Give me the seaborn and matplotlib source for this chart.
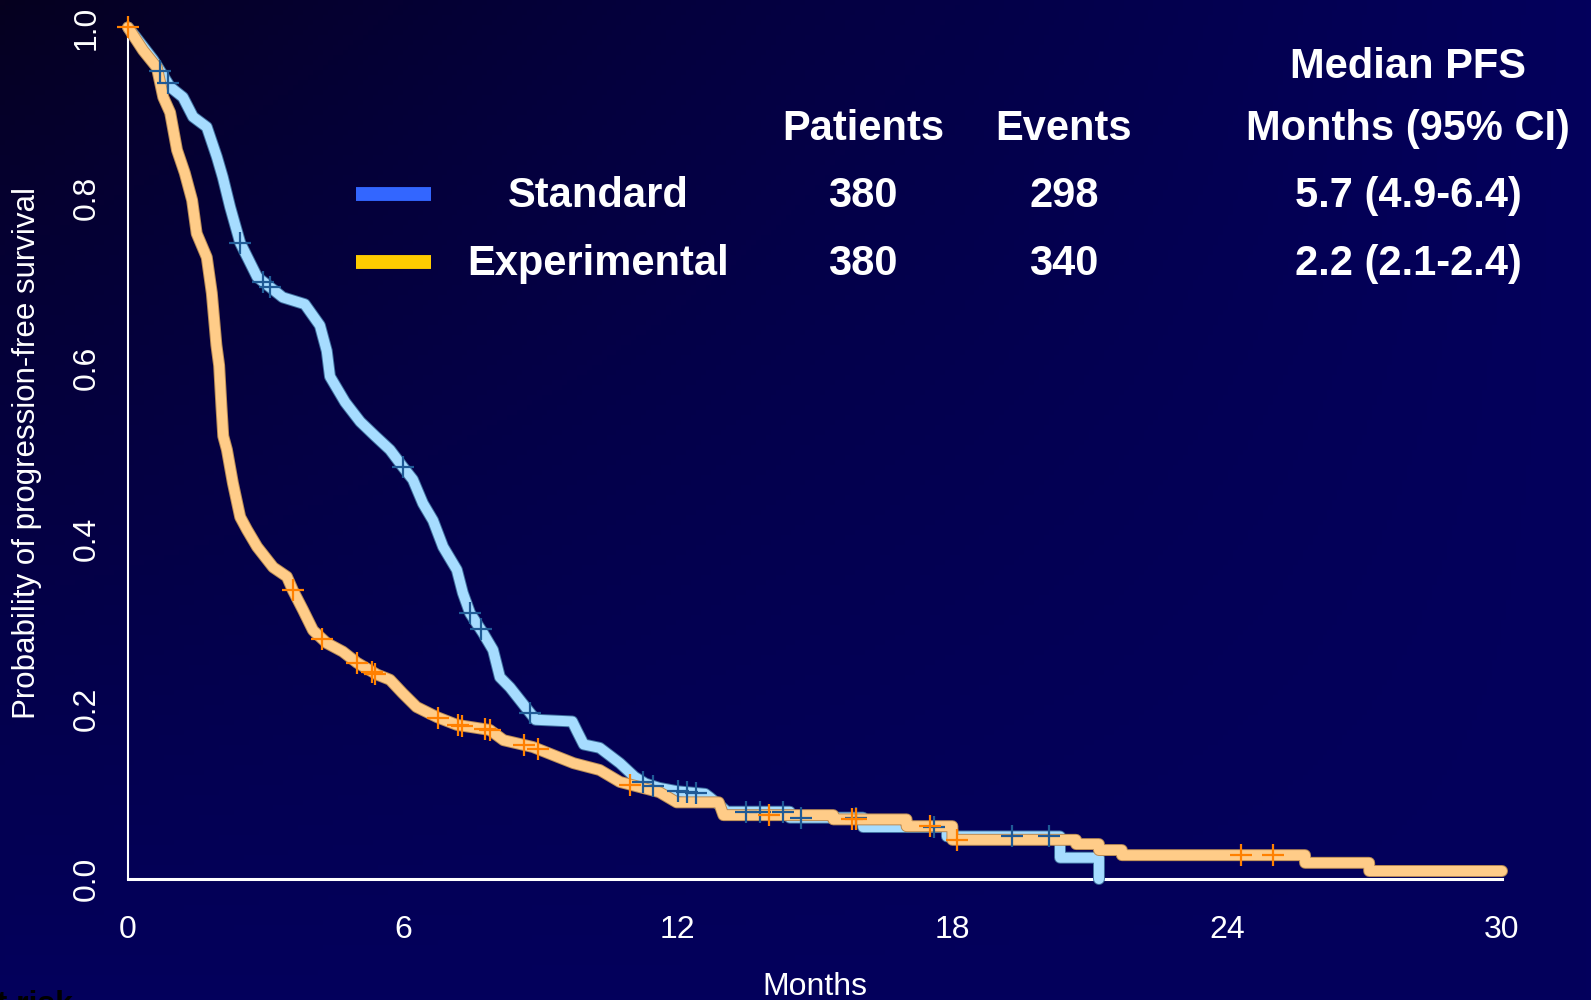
import numpy as np
import pandas as pd
import matplotlib
matplotlib.use("Agg")
import matplotlib.pyplot as plt
import matplotlib.patheffects as pe
import seaborn as sns

# ---------------- data (curve vertices) ----------------
std_time = [0, 0.15, 0.55, 0.92, 1.2, 1.42, 1.72, 1.94, 2.07, 2.23, 2.45, 2.82, 3.38,
            3.86, 4.19, 4.34, 4.41, 4.74, 5.07, 5.4, 5.72, 6.0, 6.22, 6.44, 6.66,
            6.88, 7.18, 7.31, 7.47, 7.75, 7.97, 8.12, 8.34, 8.56, 8.78, 8.9, 9.7,
            9.8, 9.95, 10.3, 10.74, 11.06, 11.3, 11.6, 12.0, 12.6, 12.7, 12.95,
            13.08, 14.45, 14.45, 16.05, 16.05, 17.88, 17.88, 20.35, 20.35, 21.2, 21.2]
std_surv = [1.0, 0.99, 0.962, 0.93, 0.918, 0.895, 0.883, 0.848, 0.824, 0.789, 0.747,
            0.707, 0.683, 0.675, 0.65, 0.62, 0.59, 0.56, 0.537, 0.52, 0.504, 0.484,
            0.469, 0.441, 0.421, 0.39, 0.363, 0.336, 0.312, 0.289, 0.269, 0.237,
            0.225, 0.21, 0.195, 0.187, 0.185, 0.174, 0.158, 0.154, 0.136, 0.12,
            0.112, 0.107, 0.103, 0.1, 0.096, 0.085, 0.079, 0.079, 0.072, 0.072,
            0.061, 0.061, 0.05, 0.05, 0.025, 0.025, 0.0]

exp_time = [0, 0.33, 0.63, 0.77, 0.92, 1.07, 1.24, 1.4, 1.5, 1.72, 1.83, 1.93, 1.99,
            2.04, 2.08, 2.16, 2.29, 2.45, 2.6, 2.82, 3.17, 3.47, 3.6, 3.82, 4.04,
            4.34, 4.69, 5.0, 5.44, 5.72, 6.0, 6.3, 6.75, 7.18, 7.9, 8.2, 8.84, 9.4,
            9.73, 10.3, 10.74, 11.6, 11.98, 12.9, 13.0, 15.4, 15.4, 17.0, 17.0,
            18.0, 18.0, 20.7, 20.7, 21.2, 21.2, 21.7, 21.7, 25.7, 25.7, 27.1, 27.1,
            30.0]
exp_surv = [1.0, 0.973, 0.953, 0.918, 0.9, 0.856, 0.829, 0.797, 0.758, 0.73, 0.688,
            0.627, 0.603, 0.555, 0.52, 0.504, 0.465, 0.425, 0.41, 0.39, 0.366,
            0.355, 0.339, 0.316, 0.292, 0.277, 0.267, 0.254, 0.24, 0.234, 0.218,
            0.202, 0.19, 0.181, 0.175, 0.163, 0.155, 0.143, 0.136, 0.128, 0.114,
            0.102, 0.09, 0.09, 0.075, 0.075, 0.07, 0.07, 0.062, 0.062, 0.046,
            0.046, 0.041, 0.041, 0.034, 0.034, 0.028, 0.028, 0.019, 0.019, 0.0094,
            0.0094]

std_censor = [0.7, 0.87, 2.45, 2.95, 3.1, 6.0, 7.47, 7.7, 8.78, 11.25, 11.46, 12.0,
              12.2, 12.4, 13.5, 13.8, 14.3, 14.7, 15.9, 17.6, 19.3, 20.1]
exp_censor = [0.0, 3.6, 4.24, 5.0, 5.33, 5.4, 6.77, 7.2, 7.3, 7.8, 7.9, 8.65, 8.95,
              10.96, 14.0, 15.8, 15.9, 17.5, 18.1, 24.3, 25.0]

x_ticks = [0, 6, 12, 18, 24, 30]
y_ticks = [0.0, 0.2, 0.4, 0.6, 0.8, 1.0]
y_tick_labels = ["0.0", "0.2", "0.4", "0.6", "0.8", "1.0"]

groups = ["Standard", "Experimental"]
patients = ["380", "380"]
events = ["298", "340"]
median_pfs = ["5.7 (4.9-6.4)", "2.2 (2.1-2.4)"]
legend_colors = ["#3366ff", "#ffcc00"]

# ---------------- style ----------------
sns.set_theme(style="white")
plt.rcParams["font.family"] = ["Liberation Sans", "DejaVu Sans"]

W, H = 1591, 1000
fig = plt.figure(figsize=(W / 100, H / 100), dpi=100)

# background gradient (dark top-left to deeper blue)
bg = fig.add_axes([0, 0, 1, 1], zorder=-10)
xx = np.linspace(0, 1, 320)
yy = np.linspace(0, 1, 200)
X, Y = np.meshgrid(xx, yy)
f = np.clip(1 - (1 - X) * (1 - Y), 0, 1) ** 0.8
dark = np.array([6, 0, 30]) / 255
light = np.array([3, 0, 92]) / 255
img = dark + (light - dark) * f[..., None]
bg.imshow(img, aspect="auto", extent=[0, 1, 0, 1], origin="upper")
bg.axis("off")

ax = fig.add_axes([128 / W, 1 - 879 / H, 1374 / W, 851.6 / H])
ax.patch.set_alpha(0)


def curve_value(times, surv, c):
    t = np.asarray(times, float)
    s = np.asarray(surv, float)
    idx = np.searchsorted(t, c, side="right") - 1
    idx = int(np.clip(idx, 0, len(t) - 1))
    if idx == len(t) - 1 or t[idx + 1] == t[idx]:
        return s[idx]
    w = (c - t[idx]) / (t[idx + 1] - t[idx])
    return s[idx] + w * (s[idx + 1] - s[idx])


series = [
    (std_time, std_surv, std_censor, "#a6dcff", "#3f6f9f", "#1f5a96"),
    (exp_time, exp_surv, exp_censor, "#ffcc88", "#b88a55", "#ff8000"),
]
for i, (t, s, cens, col, edge, mcol) in enumerate(series):
    df = pd.DataFrame({"t": t, "s": s})
    sns.lineplot(data=df, x="t", y="s", ax=ax, color=col,
                 lw=7.2, estimator=None, sort=False, clip_on=False,
                 solid_joinstyle="round",
                 path_effects=[pe.Stroke(linewidth=8.6, foreground=edge), pe.Normal()],
                 zorder=3 + i)
    cy = [curve_value(t, s, c) for c in cens]
    cdf = pd.DataFrame({"t": cens, "s": cy})
    sns.scatterplot(data=cdf, x="t", y="s", ax=ax, marker="+", s=260,
                    color=mcol, linewidth=1.6, clip_on=False, zorder=5 + i)

ax.set_xlim(0, 30)
ax.set_ylim(0, 1)
ax.set_xticks(x_ticks)
ax.set_yticks(y_ticks)
ax.set_yticklabels(y_tick_labels, rotation=90, va="center")
for side in ["top", "right"]:
    ax.spines[side].set_visible(False)
ax.spines["left"].set_color("white")
ax.spines["left"].set_linewidth(1.5)
ax.spines["bottom"].set_color("white")
ax.spines["bottom"].set_linewidth(2.2)
ax.spines["left"].set_zorder(1)
ax.tick_params(axis="both", direction="out", length=13, width=1.3,
               color="#d8d8d8", labelcolor="white", labelsize=23)
ax.tick_params(axis="x", pad=13)
ax.tick_params(axis="y", pad=6)
ax.grid(False)

ax.set_xlabel("Months", color="white", fontsize=23)
ax.xaxis.set_label_coords(0.5, (879 - 972) / 851.6)
ax.set_ylabel("Probability of progression-free survival", color="white", fontsize=22.5)
ax.yaxis.set_label_coords((42 - 128) / 1374, 0.5)


def ftext(x, y, s, **kw):
    fig.text(x / W, 1 - y / H, s, color="white", fontsize=30, fontweight="bold",
             ha="center", va="baseline", **kw)


ftext(1408, 78, "Median PFS")
ftext(863, 140, "Patients")
ftext(1064, 140, "Events")
ftext(1408, 140, "Months (95% CI)")
row_y = [207, 275]
for k in range(2):
    ftext(598, row_y[k], groups[k])
    ftext(863, row_y[k], patients[k])
    ftext(1064, row_y[k], events[k])
    ftext(1408, row_y[k], median_pfs[k])
    ly = row_y[k] - 13
    fig.add_artist(plt.Line2D([356 / W, 431 / W], [1 - ly / H, 1 - ly / H],
                              color=legend_colors[k], lw=10, solid_capstyle="butt"))

fig.text(73 / W, 1 - 1013 / H, "Number at risk", color="black", fontsize=23,
         fontweight="bold", ha="right", va="baseline")

fig.savefig("out.png", dpi=100)
